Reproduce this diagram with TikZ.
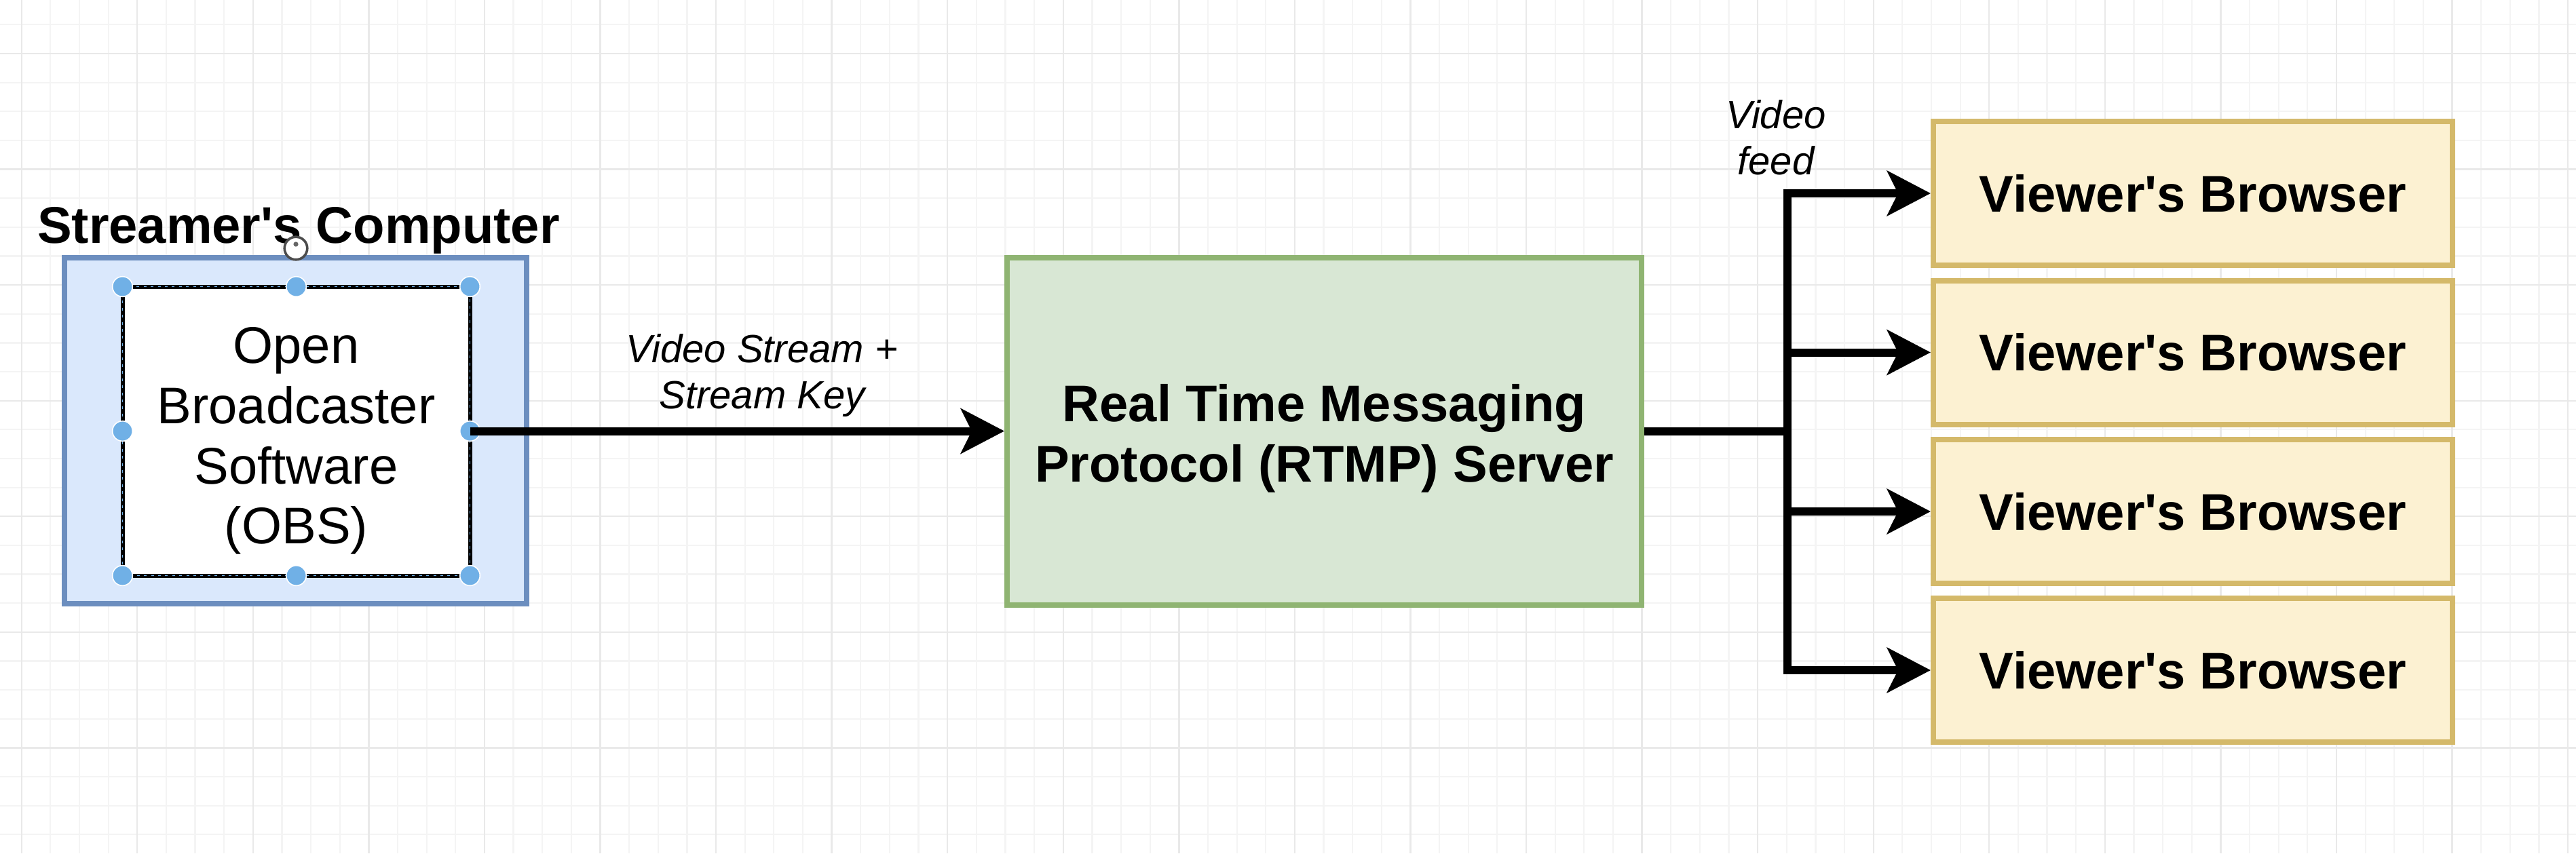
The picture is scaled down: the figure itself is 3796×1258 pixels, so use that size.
\documentclass[tikz,border=0pt]{standalone}
\usepackage{fontspec}
\newfontfamily\dfont{Liberation Sans}
\usetikzlibrary{arrows.meta}
\definecolor{gridminor}{RGB}{244,244,244}
\definecolor{gridmajor}{RGB}{233,233,233}
\definecolor{bluefill}{HTML}{DAE8FC}
\definecolor{bluedraw}{HTML}{6C8EBF}
\definecolor{greenfill}{HTML}{D8E7D4}
\definecolor{greendraw}{HTML}{8FB472}
\definecolor{yellowfill}{HTML}{FCF1D2}
\definecolor{yellowdraw}{HTML}{D4B96A}
\definecolor{handle}{RGB}{112,176,230}
\begin{document}
\begin{tikzpicture}[x=0.25pt,y=-0.25pt,
  box/.style={rectangle, line width=2pt, inner sep=0pt, align=center},
  txt/.style={inner sep=0pt, align=center},
  regtext/.style={font=\dfont\fontsize{19}{22.2}\selectfont},
  boldtext/.style={font=\dfont\fontsize{19}{22.2}\selectfont\bfseries},
  elabel/.style={inner sep=0pt, align=center, font=\dfont\fontsize{14.5}{17}\selectfont\itshape},
  wire/.style={line width=3pt, black},
  conn/.style={wire, -{Stealth[length=16pt, width=16.5pt, inset=4pt]}},
  handledot/.style={circle, fill=handle, draw=white, line width=0.4pt, minimum size=7.4pt, inner sep=0pt},
  gmin/.style={draw=gridminor, line width=0.55pt},
  gmaj/.style={draw=gridmajor, line width=0.6pt},
]
\useasboundingbox (0,0) rectangle (3796,1258);
\fill[white] (0,0) rectangle (3796,1258);
% grid
\foreach \k in {0,...,89} \draw[gmin] ({31.7+\k*42.64},0) -- ({31.7+\k*42.64},1258);
\foreach \k in {-1,...,27} \draw[gmin] (0,{79+\k*42.64}) -- (3796,{79+\k*42.64});
\foreach \k in {0,4,...,88} \draw[gmaj] ({31.7+\k*42.64},0) -- ({31.7+\k*42.64},1258);
\foreach \k in {0,4,...,24} \draw[gmaj] (0,{79+\k*42.64}) -- (3796,{79+\k*42.64});

% streamer's computer
\node[box, fill=bluefill, draw=bluedraw, minimum width=170.25pt, minimum height=127.5pt] (pc) at (435.5,635) {};
\node[boldtext, anchor=base, inner sep=0pt] (title) at (440,358) {Streamer's Computer};
\node[box, fill=white, draw=black, line width=1.5pt, outer sep=0pt,
      minimum width=128pt, minimum height=106.5pt] (obs) at (436.5,635.5) {};
\node[txt, regtext] (obstext) at (436.5,650) {Open\\Broadcaster\\Software\\(OBS)};
\draw[handle, line width=0.35pt, dash pattern=on 1pt off 1.6pt] (obs.north west) rectangle (obs.south east);
\foreach \a [count=\i] in {north west,north,north east,west,east,south west,south,south east}
  \node[handledot] (h\i) at (obs.\a) {};

% server
\node[box, fill=greenfill, draw=greendraw, minimum width=233.75pt, minimum height=128pt] (rtmp) at (1951.5,636) {};
\node[txt, boldtext] (rtmptext) at (1951.5,646) {Real Time Messaging\\Protocol (RTMP) Server};

% viewers
\foreach \y [count=\i] in {285,519.5,754,988}
  \node[box, boldtext, fill=yellowfill, draw=yellowdraw, minimum width=191.25pt, minimum height=53pt] (v\i) at (3231.5,\y) {Viewer's Browser};

% connectors
\draw[conn] (obs.east) -- (obs.east -| rtmp.west);
\node[elabel] (lbl1) at (1123,553) {Video Stream +\\Stream Key};

\coordinate (split) at (2634,636);
\draw[wire] (rtmp.east) -- (split);
\draw[wire, line cap=rect] (v1.west -| split) -- (v4.west -| split);
\foreach \i in {1,...,4} \draw[conn] (v\i.west -| split) -- (v\i.west);
\node[elabel] (lbl2) at (2617,203) {Video\\feed};

% rotate cursor
\draw[black!70, line width=0.9pt, fill=white] (436,366) circle (4.2pt);
\fill[black!60] (436,360) circle (0.9pt);
\end{tikzpicture}
\end{document}
